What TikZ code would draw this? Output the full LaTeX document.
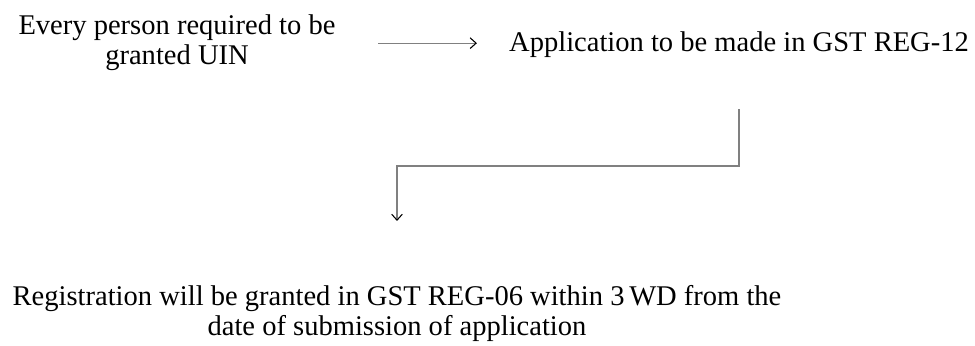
\documentclass[tikz,border=0pt]{standalone}
\usepackage{fontspec}
\setmainfont{Liberation Serif}
\usetikzlibrary{arrows.meta}
\begin{document}
\begin{tikzpicture}[x=0.75pt,y=-0.75pt,
  flowtext/.style={font=\fontsize{21.4pt}{22.5pt}\selectfont, align=center, inner sep=0pt, text=black},
  conn/.style={draw={rgb,255:red,128;green,128;blue,128}, line width=0.8pt,
    -{Straight Barb[length=4.5pt,width=8pt,color=black]}}]
  \useasboundingbox (0,0) rectangle (975,346);

  % the three steps of the procedure (base = baseline of the last line)
  \node[flowtext, anchor=base] (every) at (177,65) {Every person required to be\\granted UIN};
  \node[flowtext, anchor=base] (app) at (739,52) {Application to be made in GST REG-12};
  \node[flowtext, anchor=base] (reg) at (397,335)
    {Registration will be granted in GST REG-06 within 3\,WD from the\\date of submission of application};

  % level of the horizontal run of the elbow connector
  \coordinate (bend) at (0,166);

  % connectors
  \draw[conn, shorten <=32pt, shorten >=24pt] (every.east) -- (every.east -| app.west);
  \draw[conn, shorten <=38pt, shorten >=47.75pt] (app.south) -- (app.south |- bend) -| (reg.north);
\end{tikzpicture}
\end{document}
